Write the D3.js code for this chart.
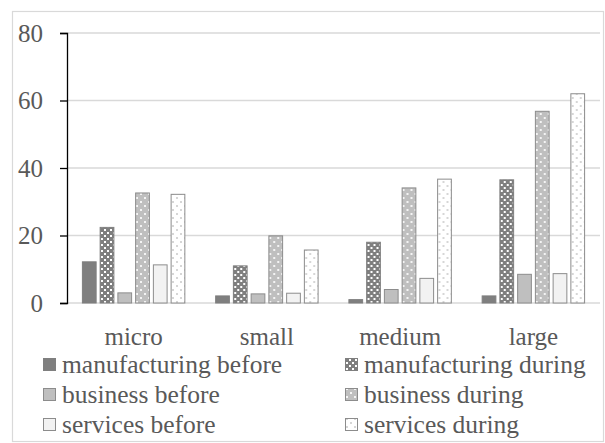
<!DOCTYPE html>
<html>
<head>
<meta charset="utf-8">
<script src="https://cdn.jsdelivr.net/npm/d3@7"></script>
<style>
  #chart text { font-family: "Liberation Serif"; }
</style>
</head>
<body style="margin:0;background:#fff">
<svg id="chart" width="605" height="443" style="display:block"></svg>
<script>
// Firm size groups
const categories = ["micro", "small", "medium", "large"];
// Series shown in each group
const seriesNames = [
  "manufacturing before", "manufacturing during",
  "business before", "business during",
  "services before", "services during"
];
// Values per series, in category order
const manufacturingBefore = [12.2, 2.1, 1.0, 2.1];
const manufacturingDuring = [22.4, 11.0, 18.0, 36.5];
const businessBefore      = [3.0, 2.7, 4.0, 8.5];
const businessDuring      = [32.6, 19.9, 34.1, 56.8];
const servicesBefore      = [11.3, 2.9, 7.3, 8.7];
const servicesDuring      = [32.2, 15.7, 36.7, 62.0];
const yTicks = [0, 20, 40, 60, 80];

const seriesValues = [
  manufacturingBefore, manufacturingDuring,
  businessBefore, businessDuring,
  servicesBefore, servicesDuring
];

const FONT = "Liberation Serif";
const TEXT_COLOR = "#595959";
const svg = d3.select("#chart").style("font-family", FONT);

// Pattern fills for the "during" series
const defs = svg.append("defs");
function dotPattern(id, bg, dot, size, dots) {
  const p = defs.append("pattern")
    .attr("id", id).attr("patternUnits", "userSpaceOnUse")
    .attr("width", size).attr("height", size);
  p.append("rect").attr("width", size).attr("height", size).attr("fill", bg);
  dots.forEach(([x, y]) => p.append("rect")
    .attr("x", x).attr("y", y).attr("width", 2).attr("height", 2).attr("fill", dot));
}
dotPattern("patMfg", "#7f7f7f", "#ffffff", 6, [[1, 1], [4, 4]]);
dotPattern("patBus", "#bfbfbf", "#f4f4f4", 8, [[1, 1], [5, 5]]);
dotPattern("patSrv", "#ffffff", "#d6d6d6", 8, [[1, 1], [5, 5]]);

const styles = [
  { fill: "#7f7f7f", stroke: "#7f7f7f" },
  { fill: "url(#patMfg)", stroke: "#7f7f7f" },
  { fill: "#bfbfbf", stroke: "#8c8c8c" },
  { fill: "url(#patBus)", stroke: "#8c8c8c" },
  { fill: "#f2f2f2", stroke: "#8c8c8c" },
  { fill: "url(#patSrv)", stroke: "#8c8c8c" }
];

// Outer chart border
svg.append("rect")
  .attr("x", 12.5).attr("y", 11.5).attr("width", 591).attr("height", 430)
  .attr("fill", "none").attr("stroke", "#d9d9d9").attr("stroke-width", 1.2);

const plot = { left: 67, right: 600, top: 33, bottom: 303 };

const x0 = d3.scaleBand().domain(categories).range([plot.left, plot.right]);
const x1 = d3.scaleBand().domain(d3.range(seriesNames.length))
  .range([0, x0.bandwidth()]).paddingInner(0.17).paddingOuter(0.84);
const y = d3.scaleLinear().domain([0, 80]).range([plot.bottom, plot.top]);

// Horizontal gridlines
svg.append("g").selectAll("line").data(yTicks).join("line")
  .attr("x1", plot.left).attr("x2", plot.right)
  .attr("y1", d => y(d)).attr("y2", d => y(d))
  .attr("stroke", "#d9d9d9").attr("stroke-width", 1.5);

// Bars
const groups = svg.append("g").selectAll("g").data(categories).join("g")
  .attr("transform", c => `translate(${x0(c)},0)`);
groups.selectAll("rect")
  .data((c, ci) => seriesValues.map((vals, si) => ({ si, v: vals[ci] })))
  .join("rect")
  .attr("x", d => x1(d.si) + 0.5)
  .attr("width", x1.bandwidth() - 1)
  .attr("y", d => y(d.v))
  .attr("height", d => y(0) - y(d.v))
  .attr("fill", d => styles[d.si].fill)
  .attr("stroke", d => styles[d.si].stroke)
  .attr("stroke-width", 1);

// Y axis
const yAxis = svg.append("g")
  .attr("transform", `translate(${plot.left},0)`)
  .call(d3.axisLeft(y).tickValues(yTicks).tickSize(7).tickPadding(17).tickFormat(d3.format("d")))
  .attr("font-family", null).attr("font-size", null);
yAxis.select(".domain").attr("stroke", "#000").attr("stroke-width", 1.3);
yAxis.selectAll(".tick line").attr("stroke", "#000").attr("stroke-width", 1.3);
yAxis.selectAll(".tick text")
  .attr("fill", TEXT_COLOR)
  .style("font-family", FONT).style("font-size", "25px");

// X axis labels
const xAxis = svg.append("g")
  .attr("transform", `translate(0,${plot.bottom})`)
  .call(d3.axisBottom(x0).tickSize(0).tickPadding(24))
  .attr("font-family", null).attr("font-size", null);
xAxis.select(".domain").remove();
xAxis.selectAll(".tick text")
  .attr("fill", TEXT_COLOR)
  .style("font-family", FONT).style("font-size", "25px");

// Legend: two columns, three rows
const legendCols = [43, 345];
const legendRows = [373, 403, 433];
const legend = svg.append("g")
  .selectAll("g").data(seriesNames).join("g")
  .attr("transform", (d, i) => `translate(${legendCols[i % 2]},${legendRows[Math.floor(i / 2)]})`);
legend.append("rect")
  .attr("x", 0.5).attr("y", -14.5).attr("width", 12).attr("height", 12)
  .attr("fill", (d, i) => styles[i].fill).attr("stroke", (d, i) => styles[i].stroke);
legend.append("text")
  .attr("x", 19).attr("y", 0)
  .attr("fill", TEXT_COLOR)
  .style("font-family", FONT).style("font-size", "25.5px")
  .text(d => d);
</script>
</body>
</html>
